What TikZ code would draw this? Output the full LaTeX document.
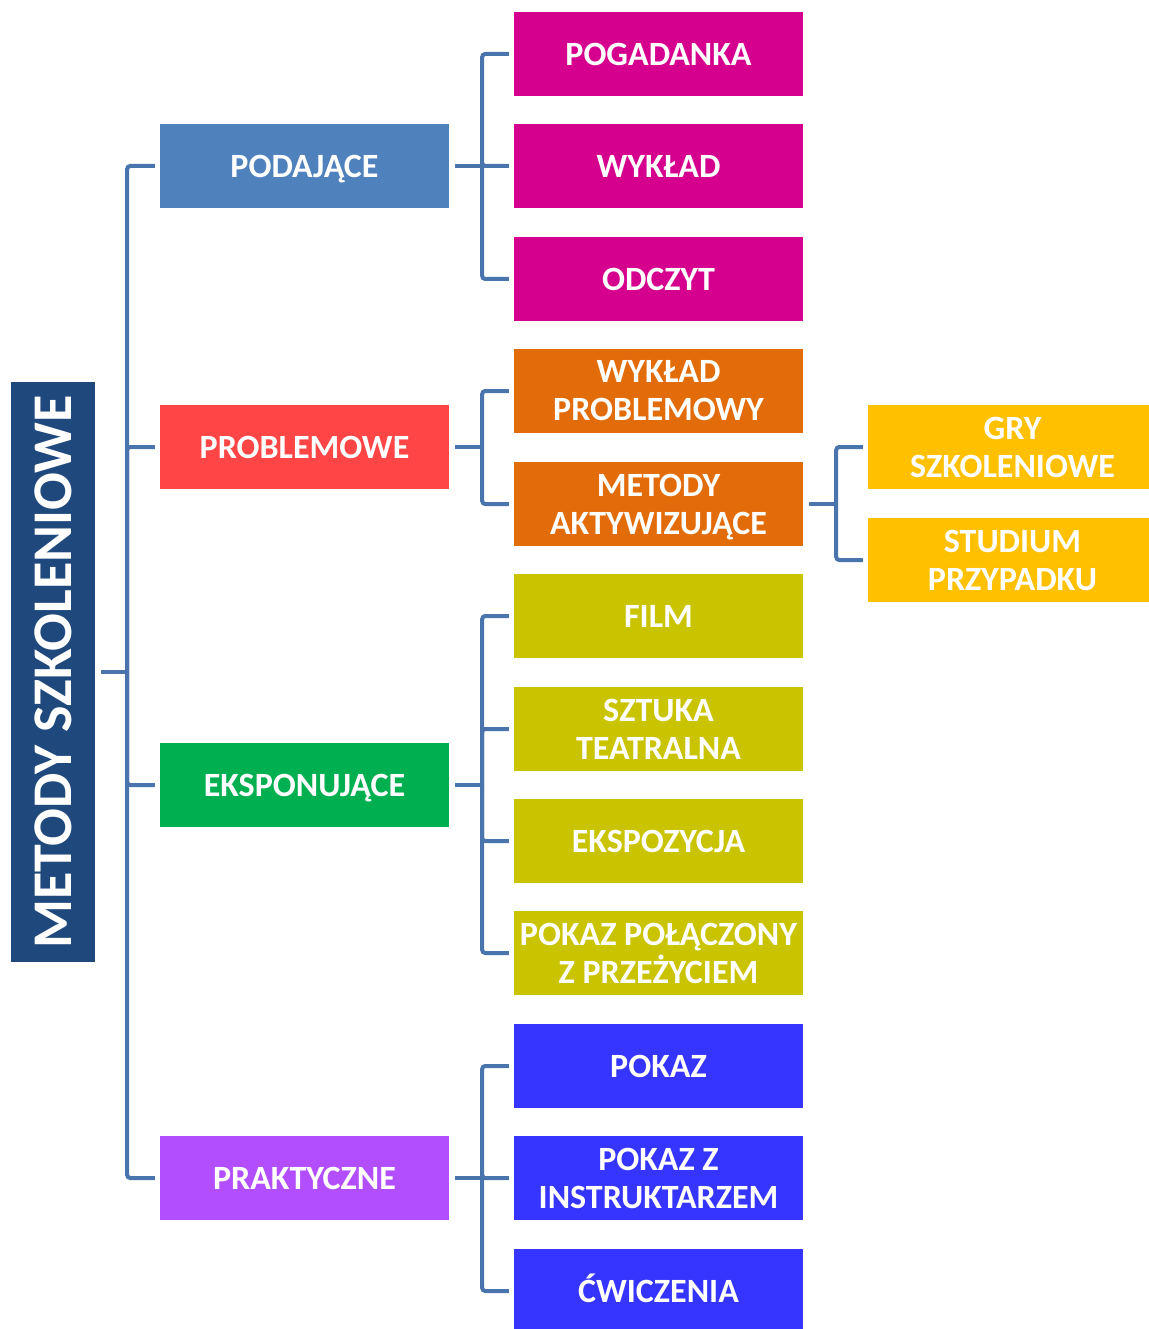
\documentclass[tikz,border=0pt]{standalone}
\usepackage{fontspec}
\setmainfont{Carlito}
\definecolor{cTitle}{HTML}{1F497D}
\definecolor{cConn}{HTML}{4A74AC}
\definecolor{cPod}{HTML}{4F81BD}
\definecolor{cMag}{HTML}{D6008F}
\definecolor{cRed}{HTML}{FF4545}
\definecolor{cOra}{HTML}{E36C0A}
\definecolor{cGold}{HTML}{FFC000}
\definecolor{cOli}{HTML}{C9C300}
\definecolor{cGrn}{HTML}{00B050}
\definecolor{cPur}{HTML}{B34EFF}
\definecolor{cBlu}{HTML}{3535FF}
\newcommand\flatln[1]{{\setbox0\hbox{#1}\ht0=\fontcharht\font`\A\dp0=0pt\box0}}
\begin{document}
\begin{tikzpicture}[x=1pt,y=-1pt,
  box/.style={fill=#1, text=white, font=\fontsize{34}{38}\selectfont\bfseries,
    minimum width=289pt, minimum height=84pt, inner sep=0pt, align=center},
  conn/.style={draw=cConn, line width=4pt, rounded corners=3pt}]
\useasboundingbox (0,0) rectangle (1148,1329);
% title
\node[fill=cTitle, text=white, minimum width=84pt, minimum height=580pt, inner sep=0pt,
  font=\fontsize{56}{60}\selectfont\bfseries] (title) at (53,672) {\rotatebox{90}{METODY SZKOLENIOWE}};
% level 1
\node[box=cPod] (pod) at (304.5,166) {\flatln{PODAJĄCE}};
\node[box=cRed] (pro) at (304.5,447) {PROBLEMOWE};
\node[box=cGrn] (eks) at (304.5,785) {\flatln{EKSPONUJĄCE}};
\node[box=cPur] (pra) at (304.5,1178) {PRAKTYCZNE};
% level 2
\node[box=cMag] (pog) at (658.5,54) {POGADANKA};
\node[box=cMag] (wyk) at (658.5,166) {WYKŁAD};
\node[box=cMag] (odc) at (658.5,279) {ODCZYT};
\node[box=cOra] (wpr) at (658.5,391) {WYKŁAD\\PROBLEMOWY};
\node[box=cOra] (akt) at (658.5,504) {METODY\\\flatln{AKTYWIZUJĄCE}};
\node[box=cOli] (fil) at (658.5,616) {FILM};
\node[box=cOli] (szt) at (658.5,729) {SZTUKA\\TEATRALNA};
\node[box=cOli] (ekp) at (658.5,841) {EKSPOZYCJA};
\node[box=cOli] (pok) at (658.5,953) {POKAZ POŁĄCZONY\\Z PRZEŻYCIEM};
\node[box=cBlu] (pkz) at (658.5,1066) {POKAZ};
\node[box=cBlu] (pin) at (658.5,1178) {POKAZ Z\\INSTRUKTARZEM};
\node[box=cBlu] (cwi) at (658.5,1291) {\flatln{ĆWICZENIA}};
% level 3
\node[box=cGold] (gry) at (1012.5,447) {GRY\\SZKOLENIOWE};
\node[box=cGold] (stu) at (1012.5,560) {STUDIUM\\PRZYPADKU};
% connectors: title -> level 1
\draw[conn] ([xshift=6pt]title.east) -- ++(26,0) coordinate (t0);
\foreach \n in {pod,pro,eks,pra}
  \draw[conn] (t0) |- ([xshift=-5pt]\n.west);
% podajace
\draw[conn] ([xshift=6pt]pod.east) -- ++(27,0) coordinate (t1);
\foreach \n in {pog,wyk,odc}
  \draw[conn] (t1) |- ([xshift=-5pt]\n.west);
% problemowe
\draw[conn] ([xshift=6pt]pro.east) -- ++(27,0) coordinate (t2);
\foreach \n in {wpr,akt}
  \draw[conn] (t2) |- ([xshift=-5pt]\n.west);
% eksponujace
\draw[conn] ([xshift=6pt]eks.east) -- ++(27,0) coordinate (t3);
\foreach \n in {fil,szt,ekp,pok}
  \draw[conn] (t3) |- ([xshift=-5pt]\n.west);
% praktyczne
\draw[conn] ([xshift=6pt]pra.east) -- ++(27,0) coordinate (t4);
\foreach \n in {pkz,pin,cwi}
  \draw[conn] (t4) |- ([xshift=-5pt]\n.west);
% aktywizujace
\draw[conn] ([xshift=6pt]akt.east) -- ++(27,0) coordinate (t5);
\foreach \n in {gry,stu}
  \draw[conn] (t5) |- ([xshift=-5pt]\n.west);
\end{tikzpicture}
\end{document}
